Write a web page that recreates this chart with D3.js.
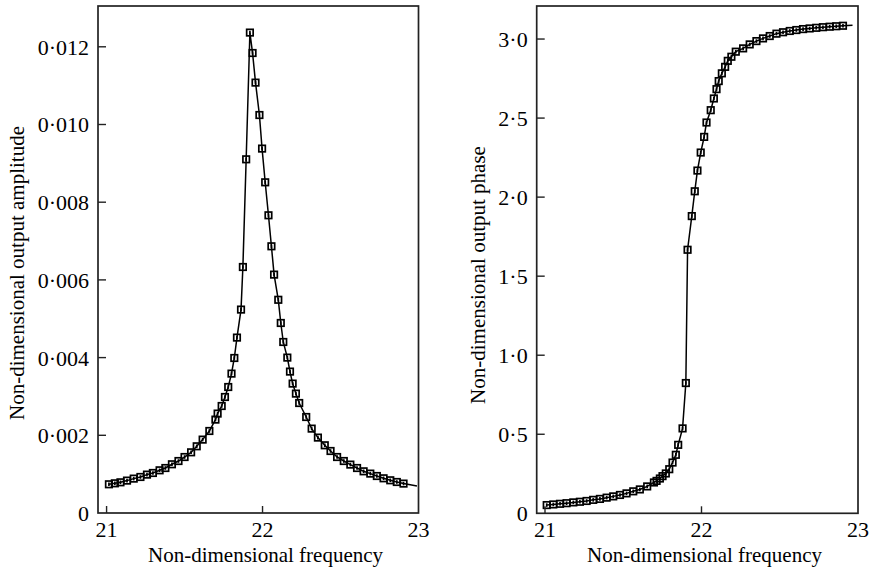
<!doctype html>
<html lang="en">

<head>
  <meta charset="utf-8">
  <title>Amplitude and phase response</title>
  <style>
    body {
      margin: 0;
      background: #fff;
    }

    text {
      font-family: "Liberation Serif", "Times New Roman", serif;
      fill: #000;
    }

    .tick-label {
      font-size: 22px;
    }

    .axis-title {
      font-size: 21px;
    }

    .frame {
      fill: none;
      stroke: #222;
      stroke-width: 1.7;
    }

    .tick {
      stroke: #222;
      stroke-width: 1.4;
    }

    .curve {
      fill: none;
      stroke: #000;
      stroke-width: 1.5;
    }

    .marker {
      fill: none;
      stroke: #000;
      stroke-width: 1.7;
    }
  </style>
</head>

<body>
  <div id="chart"></div>

  <script src="https://d3js.org/d3.v7.min.js"></script>
  <script>
// amplitude panel data
const ampFreq = [21.015, 21.053, 21.089, 21.131, 21.174, 21.217, 21.259, 21.297, 21.340, 21.377,
  21.419, 21.461, 21.500, 21.542, 21.578, 21.616, 21.659, 21.698, 21.712, 21.738, 21.759, 21.780,
  21.801, 21.819, 21.836, 21.862, 21.874, 21.895, 21.919, 21.936, 21.955, 21.980, 21.997, 22.017,
  22.038, 22.057, 22.074, 22.101, 22.117, 22.133, 22.159, 22.176, 22.193, 22.214, 22.235, 22.280,
  22.315, 22.355, 22.399, 22.436, 22.478, 22.521, 22.563, 22.606, 22.648, 22.691, 22.733, 22.776,
  22.819, 22.861, 22.904];
const ampValues = [0.000739, 0.000764, 0.000790, 0.000834, 0.000885, 0.000927, 0.000988, 0.001030,
  0.001099, 0.001158, 0.001254, 0.001338, 0.001441, 0.001562, 0.001717, 0.001889, 0.002111, 0.002404,
  0.002559, 0.002754, 0.002986, 0.003243, 0.003588, 0.003990, 0.004515, 0.005236, 0.006332, 0.009104,
  0.012366, 0.011840, 0.011078, 0.010244, 0.009380, 0.008512, 0.007663, 0.006865, 0.006136, 0.005488,
  0.004891, 0.004402, 0.004000, 0.003640, 0.003331, 0.003073, 0.002831, 0.002471, 0.002172, 0.001941,
  0.001743, 0.001596, 0.001441, 0.001338, 0.001246, 0.001158, 0.001073, 0.001014, 0.000952, 0.000893,
  0.000842, 0.000798, 0.000757];
// the solid curve runs on a little past the last marker
const ampTail = [22.99, 0.000695];
const ampTicks = [0, 0.002, 0.004, 0.006, 0.008, 0.010, 0.012];

// phase panel data
const phaseFreq = [21.011, 21.053, 21.096, 21.138, 21.181, 21.223, 21.266, 21.308, 21.351, 21.394,
  21.436, 21.479, 21.521, 21.564, 21.606, 21.653, 21.696, 21.713, 21.734, 21.751, 21.772, 21.794,
  21.815, 21.836, 21.851, 21.879, 21.900, 21.911, 21.938, 21.957, 21.974, 21.995, 22.017, 22.032,
  22.059, 22.079, 22.096, 22.110, 22.130, 22.151, 22.168, 22.191, 22.219, 22.266, 22.308, 22.351,
  22.393, 22.436, 22.479, 22.521, 22.564, 22.606, 22.649, 22.691, 22.733, 22.776, 22.819, 22.861,
  22.904];
const phaseValues = [0.052, 0.056, 0.060, 0.064, 0.069, 0.073, 0.078, 0.085, 0.091, 0.099, 0.107,
  0.116, 0.126, 0.139, 0.151, 0.170, 0.195, 0.205, 0.220, 0.235, 0.252, 0.279, 0.321, 0.370, 0.433,
  0.537, 0.824, 1.667, 1.880, 2.037, 2.168, 2.282, 2.381, 2.472, 2.550, 2.624, 2.683, 2.734, 2.783,
  2.824, 2.862, 2.888, 2.920, 2.941, 2.966, 2.987, 3.004, 3.019, 3.034, 3.043, 3.051, 3.057, 3.063,
  3.067, 3.071, 3.075, 3.078, 3.081, 3.084];
const phaseTail = [22.965, 3.088];
const phaseTicks = [0, 0.5, 1.0, 1.5, 2.0, 2.5, 3.0];

const freqTicks = [21, 22, 23];

const width = 872;
const height = 572;

const svg = d3.select('#chart')
  .append('svg')
  .attr('width', width)
  .attr('height', height);

// decimal point is printed as a raised dot
function dotFormat(decimals) {
  return d => d === 0 ? '0' : d.toFixed(decimals).replace('.', '\u00b7');
}

function drawPanel(opts) {
  const x = d3.scaleLinear().domain([opts.xMin, 23]).range([opts.left, opts.right]);
  const y = d3.scaleLinear().domain([0, opts.yMax]).range([opts.bottom, opts.top]);

  const g = svg.append('g');

  const points = opts.freq.map((f, i) => ({ f: f, v: opts.values[i] }));
  const curvePts = points.concat([{ f: opts.tail[0], v: opts.tail[1] }]);

  const line = d3.line()
    .x(d => x(d.f))
    .y(d => y(d.v));

  g.append('path')
    .datum(curvePts)
    .attr('class', 'curve')
    .attr('d', line);

  // square markers with a small centre stroke
  const s = 6.5;
  const marks = g.append('g')
    .selectAll('g')
    .data(points)
    .join('g')
    .attr('transform', d => 'translate(' + x(d.f) + ',' + y(d.v) + ')');

  marks.append('rect')
    .attr('class', 'marker')
    .attr('x', -s / 2)
    .attr('y', -s / 2)
    .attr('width', s)
    .attr('height', s);

  marks.append('line')
    .attr('class', 'marker')
    .attr('y1', -1.8)
    .attr('y2', 1.8);

  // frame
  g.append('rect')
    .attr('class', 'frame')
    .attr('x', opts.left)
    .attr('y', opts.top)
    .attr('width', opts.right - opts.left)
    .attr('height', opts.bottom - opts.top);

  // y ticks point inward
  g.selectAll('.ytick')
    .data(opts.yTicks.filter(d => d > 0))
    .join('line')
    .attr('class', 'tick')
    .attr('x1', opts.left)
    .attr('x2', opts.left + 8)
    .attr('y1', d => y(d))
    .attr('y2', d => y(d));

  g.selectAll('.ylabel')
    .data(opts.yTicks)
    .join('text')
    .attr('class', 'tick-label')
    .attr('text-anchor', 'end')
    .attr('x', opts.left - 9)
    .attr('y', d => y(d))
    .attr('dy', '0.36em')
    .text(dotFormat(opts.decimals));

  g.selectAll('.xtick')
    .data(freqTicks.slice(0, 2))
    .join('line')
    .attr('class', 'tick')
    .attr('x1', d => x(d))
    .attr('x2', d => x(d))
    .attr('y1', opts.bottom)
    .attr('y2', opts.bottom - 7);

  g.selectAll('.xlabel')
    .data(freqTicks)
    .join('text')
    .attr('class', 'tick-label')
    .attr('text-anchor', 'middle')
    .attr('x', d => x(d))
    .attr('y', opts.bottom + 24)
    .text(d => d);

  g.append('text')
    .attr('class', 'axis-title')
    .attr('text-anchor', 'middle')
    .attr('x', (x(21) + x(23)) / 2 + 3)
    .attr('y', 562)
    .text('Non-dimensional frequency');

  g.append('text')
    .attr('class', 'axis-title')
    .attr('text-anchor', 'middle')
    .attr('transform', 'translate(' + opts.titleX + ',' + opts.titleY + ') rotate(-90)')
    .text(opts.yTitle);
}

drawPanel({
  left: 98, right: 418.5, top: 6, bottom: 513,
  xMin: 20.945, yMax: 0.01305,
  freq: ampFreq, values: ampValues, tail: ampTail,
  yTicks: ampTicks, decimals: 3,
  yTitle: 'Non-dimensional output amplitude',
  titleX: 23.5, titleY: 273
});

drawPanel({
  left: 536.7, right: 858, top: 6, bottom: 513.3,
  xMin: 20.947, yMax: 3.209,
  freq: phaseFreq, values: phaseValues, tail: phaseTail,
  yTicks: phaseTicks, decimals: 1,
  yTitle: 'Non-dimensional output phase',
  titleX: 485, titleY: 275
});
  </script>
</body>

</html>
